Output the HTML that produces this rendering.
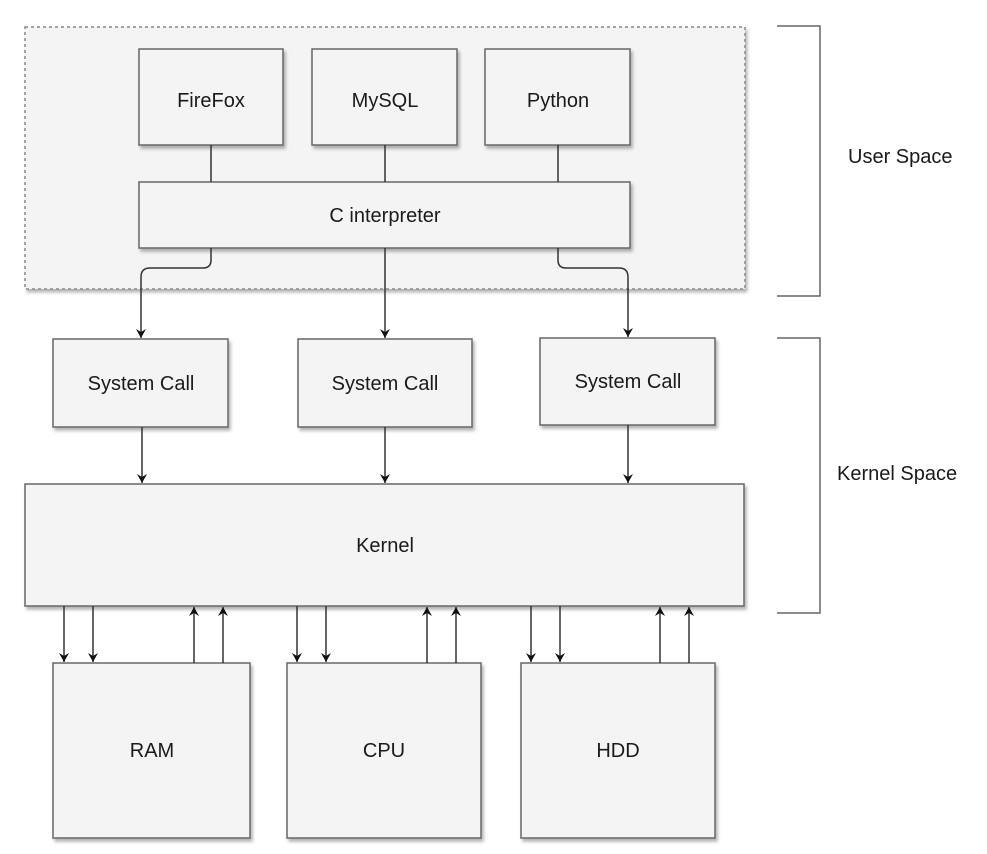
<!DOCTYPE html>
<html><head><meta charset="utf-8"><style>
html,body{margin:0;padding:0;background:#fff;}
svg{display:block;}
text{font-family:"Liberation Sans",Arial,sans-serif;font-size:20px;fill:#1a1a1a;}
</style></head><body>
<svg width="987" height="854" viewBox="0 0 987 854" xmlns="http://www.w3.org/2000/svg">
<defs>
<marker id="ah" markerWidth="10" markerHeight="10" refX="9" refY="5" orient="auto" markerUnits="userSpaceOnUse">
<path d="M0,0 L9,5 L0,10 L3,5 Z" fill="#111"/>
</marker>
<filter id="sh" x="-5%" y="-5%" width="115%" height="120%"><feDropShadow dx="2" dy="3" stdDeviation="1.5" flood-color="#000" flood-opacity="0.3"/></filter>
</defs>
<rect x="25" y="27" width="720" height="262" fill="#f4f4f4" stroke="#888" stroke-width="1.5" stroke-dasharray="3,3" filter="url(#sh)"/>
<g fill="#f4f4f4" stroke="#666" stroke-width="1.5" filter="url(#sh)">
<rect x="139" y="49" width="144" height="96"/>
<rect x="312" y="49" width="145" height="96"/>
<rect x="485" y="49" width="145" height="96"/>
<rect x="139" y="182" width="491" height="66"/>
<rect x="53" y="339" width="175" height="88"/>
<rect x="298" y="339" width="174" height="88"/>
<rect x="540" y="338" width="175" height="87"/>
<rect x="25" y="484" width="719" height="122"/>
<rect x="53" y="663" width="197" height="175"/>
<rect x="287" y="663" width="194" height="175"/>
<rect x="521" y="663" width="194" height="175"/>
</g>
<g stroke="#333" stroke-width="1.5" fill="none">
<line x1="211" y1="145" x2="211" y2="182"/>
<line x1="385" y1="145" x2="385" y2="182"/>
<line x1="558" y1="145" x2="558" y2="182"/>
<path d="M211,248 V260 Q211,268 203,268 H150 Q141,268 141,277 V338" marker-end="url(#ah)"/>
<line x1="385" y1="248" x2="385" y2="338" marker-end="url(#ah)"/>
<path d="M558,248 V260 Q558,268 566,268 H619 Q628,268 628,277 V337" marker-end="url(#ah)"/>
<line x1="142" y1="427" x2="142" y2="483" marker-end="url(#ah)"/>
<line x1="385" y1="427" x2="385" y2="483" marker-end="url(#ah)"/>
<line x1="628" y1="425" x2="628" y2="483" marker-end="url(#ah)"/>
<line x1="64" y1="606" x2="64" y2="662" marker-end="url(#ah)"/>
<line x1="93" y1="606" x2="93" y2="662" marker-end="url(#ah)"/>
<line x1="194" y1="663" x2="194" y2="607" marker-end="url(#ah)"/>
<line x1="223" y1="663" x2="223" y2="607" marker-end="url(#ah)"/>
<line x1="297" y1="606" x2="297" y2="662" marker-end="url(#ah)"/>
<line x1="326" y1="606" x2="326" y2="662" marker-end="url(#ah)"/>
<line x1="427" y1="663" x2="427" y2="607" marker-end="url(#ah)"/>
<line x1="456" y1="663" x2="456" y2="607" marker-end="url(#ah)"/>
<line x1="531" y1="606" x2="531" y2="662" marker-end="url(#ah)"/>
<line x1="560" y1="606" x2="560" y2="662" marker-end="url(#ah)"/>
<line x1="660" y1="663" x2="660" y2="607" marker-end="url(#ah)"/>
<line x1="689" y1="663" x2="689" y2="607" marker-end="url(#ah)"/>
</g>
<g stroke="#666" stroke-width="1.5" fill="none">
<path d="M777,26 H820 V296 H777"/>
<path d="M777,338 H820 V613 H777"/>
</g>
<g text-anchor="middle">
<text x="211" y="107">FireFox</text>
<text x="385" y="107">MySQL</text>
<text x="558" y="107">Python</text>
<text x="385" y="222">C interpreter</text>
<text x="141" y="390">System Call</text>
<text x="385" y="390">System Call</text>
<text x="628" y="388">System Call</text>
<text x="385" y="552">Kernel</text>
<text x="152" y="757">RAM</text>
<text x="384" y="757">CPU</text>
<text x="618" y="757">HDD</text>
</g>
<text x="848" y="163">User Space</text>
<text x="837" y="480">Kernel Space</text>
</svg>
</body></html>
